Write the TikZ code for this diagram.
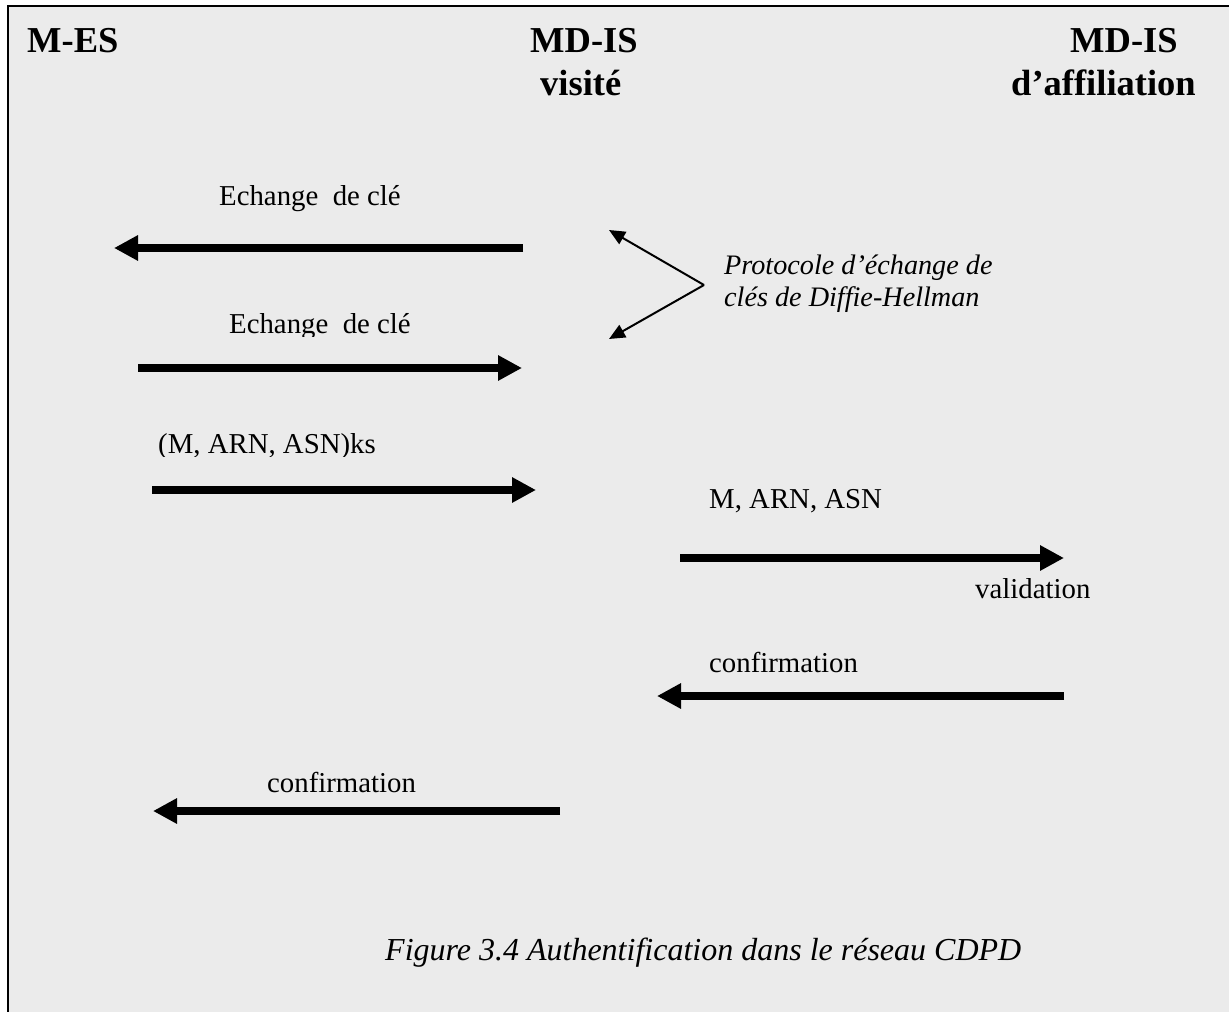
\documentclass[tikz,border=0pt]{standalone}
\usepackage{fontspec}
\setmainfont{Liberation Serif}[Ligatures=NoCommon]
\usetikzlibrary{arrows.meta}
\definecolor{panel}{HTML}{EBEBEB}
\begin{document}
\begin{tikzpicture}[x=1pt,y=-1pt,
  title/.style={inner sep=0pt,anchor=base west,font=\bfseries\fontsize{36.5}{40}\selectfont},
  msg/.style={inner sep=0pt,anchor=base west,font=\fontsize{28.8}{32}\selectfont},
  note/.style={inner sep=0pt,anchor=base west,font=\itshape\fontsize{28.2}{31}\selectfont},
  flow/.style={line width=8pt,-{Triangle[length=24pt,width=24pt]}},
  pointer/.style={line width=2pt,-{Triangle[length=16pt,width=14pt]}}]
\useasboundingbox (0,0) rectangle (1229,1012);
\fill[white] (0,0) rectangle (1229,1012);
\fill[panel] (8,6) rectangle (1229,1012);
\draw[line width=2.5pt] (8,1012) -- (8,6) -- (1229,6);

% entities
\node[title] (mes) at (27,52) {M-ES};
\node[title] (mdv) at (530,52) {MD-IS};
\node[title] (mdv2) at (540,95) {visité};
\node[title] (mda) at (1070,52) {MD-IS};
\node[title] (mda2) at (1011,95) {d’affiliation};

% end points of the exchanges
\coordinate (k1s) at (523,248); \coordinate (k1e) at (114,248);
\coordinate (k2s) at (138,368); \coordinate (k2e) at (522,368);
\coordinate (c1s) at (152,490); \coordinate (c1e) at (536,490);
\coordinate (v1s) at (680,558); \coordinate (v1e) at (1064,558);
\coordinate (r1s) at (1064,696); \coordinate (r1e) at (657,696);
\coordinate (r2s) at (560,811); \coordinate (r2e) at (153,811);

% Diffie-Hellman pointers
\coordinate (dh) at (704,285);
\coordinate (dhu) at (609,230);
\coordinate (dhl) at (609,339);

% labels
\node[msg] (l1) at (219,205) {Echange\ \ de clé};
\begin{scope}
  \clip (0,0) rectangle (1229,336);
  \node[msg] (l2) at (229,333) {Echange\ \ de clé};
\end{scope}
\begin{scope}
  \clip (0,0) rectangle (1229,456);
  \node[msg] (l3) at (158,453) {(M, ARN, ASN)ks};
\end{scope}
\node[msg] (l4) at (709,508) {M, ARN, ASN};
\node[msg] (l5) at (975,598) {validation};
\node[msg] (l6) at (709,672) {confirmation};
\node[msg] (l7) at (267,792) {confirmation};

\node[note] (dh1) at (724,274) {Protocole d’échange de};
\node[note] (dh2) at (724,306) {clés de Diffie-Hellman};

% arrows
\draw[flow] (k1s) -- (k1e);
\draw[flow] (k2s) -- (k2e);
\draw[flow] (c1s) -- (c1e);
\draw[flow] (v1s) -- (v1e);
\draw[flow] (r1s) -- (r1e);
\draw[flow] (r2s) -- (r2e);
\draw[pointer] (dh) -- (dhu);
\draw[pointer] (dh) -- (dhl);

% caption
\node[inner sep=0pt,anchor=base west,font=\itshape\fontsize{32}{36}\selectfont] (cap)
  at (385,960) {Figure 3.4 Authentification dans le réseau CDPD};
\end{tikzpicture}
\end{document}
